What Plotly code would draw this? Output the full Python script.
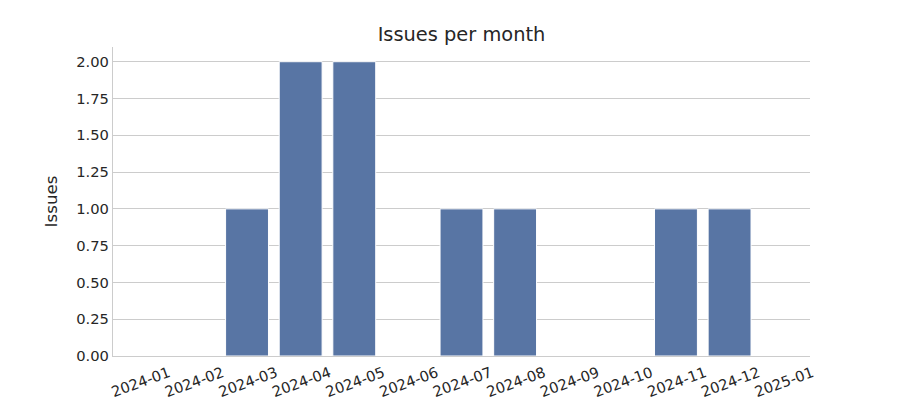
import plotly.graph_objects as go

months = ["2024-01", "2024-02", "2024-03", "2024-04", "2024-05", "2024-06", "2024-07",
          "2024-08", "2024-09", "2024-10", "2024-11", "2024-12", "2025-01"]
issues = [0, 0, 1, 2, 2, 0, 1, 1, 0, 0, 1, 1, 0]
yticks = [0, 0.25, 0.5, 0.75, 1.0, 1.25, 1.5, 1.75, 2.0]

FONT = "DejaVu Sans"
TXT = "#262626"

fig = go.Figure(go.Bar(
    x=list(range(len(months))), y=issues,
    marker=dict(color="#5875a4", line=dict(color="white", width=1)),
    width=0.8,
))

fig.update_layout(
    width=900, height=400,
    margin=dict(l=113, r=90, t=47, b=44),
    plot_bgcolor="white", paper_bgcolor="white",
    font=dict(family=FONT, color=TXT, size=14.7),
    title=dict(text="Issues per month", x=(113 + 810) / 2 / 900, xanchor="center",
               y=1 - 34 / 400, yanchor="middle", font=dict(size=19.4, color=TXT)),
    showlegend=False,
)
fig.update_xaxes(
    range=[-0.5, len(months) - 0.5], automargin=False,
    tickmode="array", tickvals=list(range(len(months))), ticktext=months,
    tickangle=-20, ticklabelshift=29, ticklabelstandoff=2,
    showgrid=False, showline=True, linecolor="#cccccc", linewidth=1.25,
    ticks="", zeroline=False,
)
fig.update_yaxes(
    range=[0, 2.1], automargin=False,
    tickmode="array", tickvals=yticks, tickformat=".2f",
    showgrid=True, gridcolor="#cccccc", gridwidth=1,
    showline=True, linecolor="#cccccc", linewidth=1.25,
    ticks="", zeroline=False,
    title=dict(text="Issues", font=dict(size=16.7, color=TXT), standoff=14),
)

fig.write_html("out.html")
